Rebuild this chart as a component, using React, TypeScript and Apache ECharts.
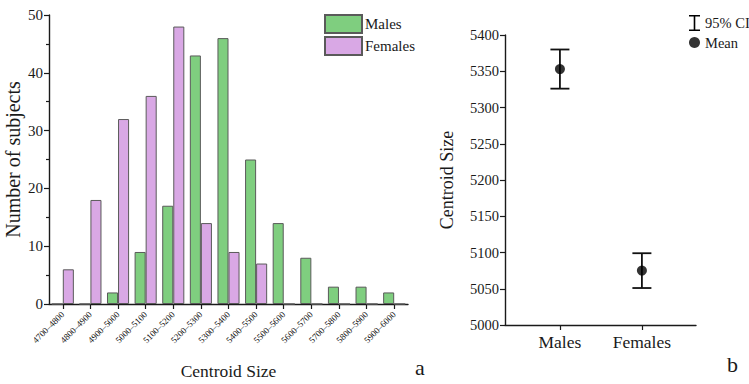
import React, { useEffect, useRef } from "react";
import * as echarts from "echarts";

// Histogram of centroid size by sex
const sizeBins = [
  "4700–4800", "4800–4900", "4900–5000", "5000–5100", "5100–5200",
  "5200–5300", "5300–5400", "5400–5500", "5500–5600", "5600–5700",
  "5700–5800", "5800–5900", "5900–6000",
];
const maleCounts = [0, 0, 2, 9, 17, 43, 46, 25, 14, 8, 3, 3, 2];
const femaleCounts = [6, 18, 32, 36, 48, 14, 9, 7, 0, 0, 0, 0, 0];

// Group means with 95% confidence intervals
const groups = ["Males", "Females"];
const groupMeans = [5353, 5075];
const ciLower = [5326, 5051];
const ciUpper = [5380, 5099];

const FONT = "'Liberation Serif', 'Times New Roman', serif";
const INK = "#1a1a1a";

export default function App() {
  const ref = useRef<HTMLDivElement>(null);

  useEffect(() => {
    document.body.style.margin = "0";
    const chart = echarts.init(ref.current!, null, { renderer: "svg" });

    const axisLine = { show: true, lineStyle: { color: INK, width: 1.4 } };
    const axisTick = { show: true, inside: false, length: 5, lineStyle: { color: INK, width: 1.2 } };
    const plain = (v: number) => String(v);

    chart.setOption({
      animation: false,
      textStyle: { fontFamily: FONT, color: INK },
      grid: [
        { left: 49, top: 15, width: 359, height: 289, outerBoundsMode: "none" },
        { left: 505, top: 35, width: 191, height: 290, outerBoundsMode: "none" },
      ],
      legend: [
        {
          data: ["Males", "Females"],
          orient: "vertical",
          left: 319,
          top: 9,
          icon: "rect",
          itemWidth: 37,
          itemHeight: 18,
          itemGap: 2,
          textStyle: { fontFamily: FONT, fontSize: 15, color: INK, padding: [0, 0, 0, -2] },
        },
        {
          data: [
            {
              name: "95% CI",
              icon: "path://M0,0 H11 V1.6 H6.3 V14.4 H11 V16 H0 V14.4 H4.7 V1.6 H0 Z",
              itemStyle: { color: "#000" },
            },
            { name: "Mean", icon: "circle", itemStyle: { color: "#000" } },
          ],
          orient: "vertical",
          left: 684,
          top: 10,
          itemWidth: 11,
          itemHeight: 16,
          itemGap: 4,
          textStyle: { fontFamily: FONT, fontSize: 14.5, color: INK },
        },
      ],
      xAxis: [
        {
          gridIndex: 0,
          type: "category",
          data: sizeBins,
          boundaryGap: true,
          axisLine,
          axisTick: { ...axisTick, alignWithLabel: true, interval: 0 },
          axisLabel: {
            rotate: 45,
            fontSize: 9,
            margin: 9,
            color: "#111",
            fontFamily: FONT,
            interval: 0,
            hideOverlap: false,
          },
          name: "Centroid Size",
          nameLocation: "middle",
          nameGap: 58,
          nameMoveOverlap: false,
          nameTextStyle: { fontSize: 17.5, fontFamily: FONT, color: INK },
        },
        {
          gridIndex: 1,
          type: "value",
          min: 0.33,
          max: 2.66,
          splitLine: { show: false },
          axisLine,
          axisTick: { ...axisTick, customValues: [1, 2] },
          axisLabel: {
            customValues: [1, 2],
            formatter: (v: number) => groups[Math.round(v) - 1] ?? "",
            fontSize: 17.5,
            margin: 8,
            color: INK,
            fontFamily: FONT,
          },
        },
      ],
      yAxis: [
        {
          gridIndex: 0,
          type: "value",
          min: 0,
          max: 50,
          interval: 10,
          splitLine: { show: false },
          axisLine,
          axisTick,
          minorTick: { show: true, splitNumber: 2, length: 3, lineStyle: { color: INK, width: 1.2 } },
          axisLabel: { fontSize: 15, margin: 6, color: INK, fontFamily: FONT, formatter: plain },
          name: "Number of subjects",
          nameLocation: "middle",
          nameGap: 26,
          nameMoveOverlap: false,
          nameTextStyle: { fontSize: 20, fontFamily: FONT, color: INK },
        },
        {
          gridIndex: 1,
          type: "value",
          min: 5000,
          max: 5400,
          interval: 50,
          splitLine: { show: false },
          axisLine,
          axisTick,
          axisLabel: { fontSize: 14.5, margin: 6, color: INK, fontFamily: FONT, formatter: plain },
          name: "Centroid Size",
          nameLocation: "middle",
          nameGap: 49,
          nameMoveOverlap: false,
          nameTextStyle: { fontSize: 18, fontFamily: FONT, color: INK },
        },
      ],
      series: [
        {
          name: "Males",
          type: "bar",
          xAxisIndex: 0,
          yAxisIndex: 0,
          data: maleCounts,
          barGap: "0%",
          barCategoryGap: "20%",
          itemStyle: { color: "#7fce7f", borderColor: "#5a5a5a", borderWidth: 1 },
        },
        {
          name: "Females",
          type: "bar",
          xAxisIndex: 0,
          yAxisIndex: 0,
          data: femaleCounts,
          barGap: "0%",
          barCategoryGap: "20%",
          itemStyle: { color: "#d9a8e5", borderColor: "#5a5a5a", borderWidth: 1 },
        },
        {
          name: "95% CI",
          type: "custom",
          xAxisIndex: 1,
          yAxisIndex: 1,
          data: groups.map((_, i) => [i + 1, ciLower[i], ciUpper[i]]),
          encode: { x: 0, y: [1, 2] },
          itemStyle: { color: "#000" },
          renderItem: (_params: any, api: any) => {
            const x = api.value(0);
            const lo = api.coord([x, api.value(1)]);
            const hi = api.coord([x, api.value(2)]);
            const half = 9.5;
            const style = { stroke: "#111", lineWidth: 1.8 };
            return {
              type: "group",
              children: [
                { type: "line", shape: { x1: lo[0], y1: lo[1], x2: hi[0], y2: hi[1] }, style },
                { type: "line", shape: { x1: hi[0] - half, y1: hi[1], x2: hi[0] + half, y2: hi[1] }, style },
                { type: "line", shape: { x1: lo[0] - half, y1: lo[1], x2: lo[0] + half, y2: lo[1] }, style },
              ],
            };
          },
          z: 2,
        },
        {
          name: "Mean",
          type: "scatter",
          xAxisIndex: 1,
          yAxisIndex: 1,
          data: groups.map((_, i) => [i + 1, groupMeans[i]]),
          symbol: "circle",
          symbolSize: 10,
          itemStyle: { color: "#000" },
          z: 3,
        },
      ],
      graphic: [
        { type: "text", left: 415, top: 356, style: { text: "a", fontSize: 22, fontFamily: FONT, fill: INK } },
        { type: "text", left: 727, top: 353, style: { text: "b", fontSize: 22, fontFamily: FONT, fill: INK } },
      ],
    });

    return () => chart.dispose();
  }, []);

  return <div ref={ref} style={{ width: 749, height: 384 }} />;
}
